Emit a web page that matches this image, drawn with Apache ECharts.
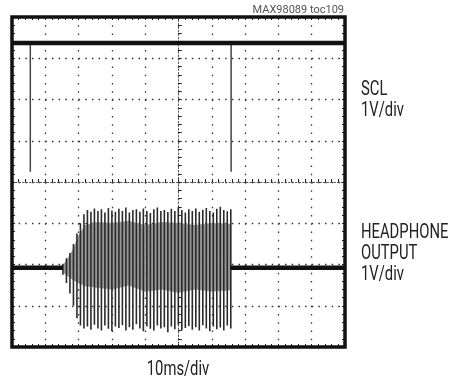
<!DOCTYPE html>
<html>
<head>
<meta charset="utf-8">
<script src="https://cdn.jsdelivr.net/npm/echarts@6/dist/echarts.min.js"></script>
<style>
html, body { margin: 0; padding: 0; background: #fff; }
#chart { width: 449px; height: 381px; }
</style>
</head>
<body>
<div id="chart"></div>
<script>
// scope screen: 10 div x 10ms, 8 div x 1V (vertical values in divisions)
const timeRange = [-50, 50]
const divRange = [-4, 4]

// SCL channel
const sclLevel = 3.37
const sclPulseTimes = [-44.5, 15.8]
const sclPulseLow = 0.25

// headphone output channel
const hpBaseline = -2.08
const burstTimes = [
  -34.7, -33.65, -32.6, -31.55, -30.5, -29.45, -28.4, -27.35, -26.3, -25.25,
  -24.2, -23.15, -22.1, -21.05, -20.0, -18.95, -17.9, -16.85, -15.8, -14.75,
  -13.7, -12.65, -11.6, -10.55, -9.5, -8.45, -7.4, -6.35, -5.3, -4.25,
  -3.2, -2.15, -1.1, -0.05, 1.0, 2.05, 3.1, 4.15, 5.2, 6.25,
  7.3, 8.35, 9.4, 10.45, 11.5, 12.55, 13.6, 14.65, 15.7
]
const burstTops = [
  -1.98, -1.85, -1.72, -1.5, -1.25, -1.0, -0.78, -0.68, -0.72, -0.64,
  -0.7, -0.66, -0.74, -0.63, -0.69, -0.72, -0.65, -0.7, -0.62, -0.74,
  -0.68, -0.66, -0.72, -0.64, -0.7, -0.75, -0.66, -0.62, -0.7, -0.68,
  -0.73, -0.65, -0.7, -0.62, -0.68, -0.74, -0.66, -0.7, -0.64, -0.72,
  -0.67, -0.63, -0.7, -0.74, -0.65, -0.6, -0.68, -0.71, -0.66
]
const burstBottoms = [
  -2.25, -2.45, -2.7, -3.0, -3.3, -3.48, -3.55, -3.5, -3.58, -3.46,
  -3.55, -3.6, -3.48, -3.56, -3.62, -3.5, -3.54, -3.47, -3.6, -3.52,
  -3.58, -3.45, -3.55, -3.62, -3.5, -3.56, -3.6, -3.48, -3.55, -3.52,
  -3.64, -3.5, -3.57, -3.46, -3.6, -3.54, -3.49, -3.58, -3.52, -3.6,
  -3.47, -3.55, -3.62, -3.5, -3.57, -3.53, -3.6, -3.48, -3.55
]
// grey core of the burst where the trace is densest
const bandTimes = [-34.5, -32, -30, -28, -25, -20, -15, -10, -5, 0, 5, 10, 15.7]
const bandTops = [-2.0, -1.7, -1.3, -1.05, -0.98, -1.0, -0.95, -1.05, -0.98, -1.0, -1.05, -1.0, -1.02]
const bandBottoms = [-2.2, -2.35, -2.45, -2.52, -2.55, -2.6, -2.5, -2.65, -2.6, -2.68, -2.6, -2.65, -2.62]

const labelFont = 'Roboto, sans-serif'
const labelSize = 20
const labelSqueeze = 0.74

const sclData = [[timeRange[0], sclLevel], [timeRange[1], sclLevel]]
const pulseData = []
sclPulseTimes.forEach(t => {
  pulseData.push([t, sclLevel], [t, sclPulseLow], [t, null])
})
const hpData = [
  [timeRange[0], hpBaseline], [burstTimes[0], hpBaseline], [burstTimes[0], null],
  [burstTimes[burstTimes.length - 1], hpBaseline], [timeRange[1], hpBaseline]
]
const burstData = []
burstTimes.forEach((t, i) => {
  burstData.push([t, burstTops[i]], [t, burstBottoms[i]], [t, null])
})
const bandData = bandTimes.map((t, i) => [t, bandTops[i], bandBottoms[i]])

function renderBand (params, api) {
  const i = params.dataIndex
  if (i >= bandTimes.length - 1) return null
  const pts = [
    api.coord([bandTimes[i], bandTops[i]]),
    api.coord([bandTimes[i + 1], bandTops[i + 1]]),
    api.coord([bandTimes[i + 1], bandBottoms[i + 1]]),
    api.coord([bandTimes[i], bandBottoms[i]])
  ]
  return {
    type: 'polygon',
    shape: { points: pts },
    style: { fill: '#969696', stroke: '#969696', lineWidth: 0.6 }
  }
}

const tickStyle = { color: '#222', width: 1 }

function xAxisOf (extra) {
  return Object.assign({
    type: 'value',
    min: timeRange[0],
    max: timeRange[1],
    interval: 10,
    axisLabel: { show: false },
    axisLine: { show: false, onZero: false },
    axisTick: { show: true, inside: true, length: 3, lineStyle: tickStyle },
    minorTick: { show: true, splitNumber: 5, length: 3, lineStyle: tickStyle },
    splitLine: { show: false }
  }, extra)
}
function yAxisOf (extra) {
  return Object.assign({
    type: 'value',
    min: divRange[0],
    max: divRange[1],
    interval: 1,
    axisLabel: { show: false },
    axisLine: { show: false, onZero: false },
    axisTick: { show: true, inside: true, length: 3, lineStyle: tickStyle },
    minorTick: { show: true, splitNumber: 5, length: 3, lineStyle: tickStyle },
    splitLine: { show: false }
  }, extra)
}

function label (text, x, y, align) {
  return {
    type: 'text',
    x: x,
    y: y,
    scaleX: labelSqueeze,
    style: {
      text: text,
      fill: '#222',
      fontSize: labelSize,
      fontFamily: labelFont,
      align: align || 'left',
      verticalAlign: 'middle'
    }
  }
}

const chart = echarts.init(document.getElementById('chart'))
const option = {
  animation: false,
  backgroundColor: '#fff',
  grid: {
    left: 12,
    top: 17,
    width: 333,
    height: 330,
    show: true,
    borderColor: '#111',
    borderWidth: 3.5,
    z: 10
  },
  xAxis: [
    xAxisOf({
      position: 'bottom',
      splitLine: { show: true, lineStyle: { color: '#333', width: 1.3, type: [1.5, 6.75] } }
    }),
    xAxisOf({ position: 'top' }),
    xAxisOf({
      position: 'bottom',
      axisLine: { show: true, onZero: true, onZeroAxisIndex: 0, lineStyle: { color: '#555', width: 1, type: [1.5, 2] } },
      axisTick: { show: true, inside: true, length: 3, lineStyle: tickStyle }
    }),
    xAxisOf({
      position: 'top',
      axisLine: { show: false, onZero: true, onZeroAxisIndex: 0 },
      axisTick: { show: true, inside: false, length: 3, lineStyle: tickStyle }
    })
  ],
  yAxis: [
    yAxisOf({
      position: 'left',
      splitLine: { show: true, lineStyle: { color: '#333', width: 1.3, type: [1.5, 5.16] } }
    }),
    yAxisOf({ position: 'right' }),
    yAxisOf({
      position: 'left',
      axisLine: { show: true, onZero: true, onZeroAxisIndex: 0, lineStyle: { color: '#555', width: 1, type: [1.5, 2] } },
      axisTick: { show: true, inside: true, length: 3, lineStyle: tickStyle }
    }),
    yAxisOf({
      position: 'right',
      axisLine: { show: false, onZero: true, onZeroAxisIndex: 0 },
      axisTick: { show: true, inside: false, length: 3, lineStyle: tickStyle }
    })
  ],
  series: [
    {
      type: 'custom',
      name: 'burst core',
      data: bandData,
      encode: { x: 0, y: [1, 2] },
      renderItem: renderBand,
      silent: true
    },
    {
      type: 'line',
      name: 'HEADPHONE OUTPUT burst',
      data: burstData,
      symbol: 'none',
      connectNulls: false,
      lineStyle: { color: '#2a2a2a', width: 1.6 }
    },
    {
      type: 'line',
      name: 'HEADPHONE OUTPUT',
      data: hpData,
      symbol: 'none',
      connectNulls: false,
      lineStyle: { color: '#111', width: 4.5 }
    },
    {
      type: 'line',
      name: 'SCL pulses',
      data: pulseData,
      symbol: 'none',
      connectNulls: false,
      lineStyle: { color: '#444', width: 1.5 }
    },
    {
      type: 'line',
      name: 'SCL',
      data: sclData,
      symbol: 'none',
      lineStyle: { color: '#111', width: 4.5 }
    }
  ],
  graphic: [
    { type: 'text', x: 344, y: 10, style: { text: 'MAX98089 toc109', fill: '#555', fontSize: 11, fontFamily: labelFont, align: 'right', verticalAlign: 'middle' } },
    label('SCL', 361, 90),
    label('1V/div', 361, 111),
    label('HEADPHONE', 361, 233),
    label('OUTPUT', 361, 254),
    label('1V/div', 361, 275),
    label('10ms/div', 178, 370, 'center')
  ]
}
chart.setOption(option)
</script>
</body>
</html>
